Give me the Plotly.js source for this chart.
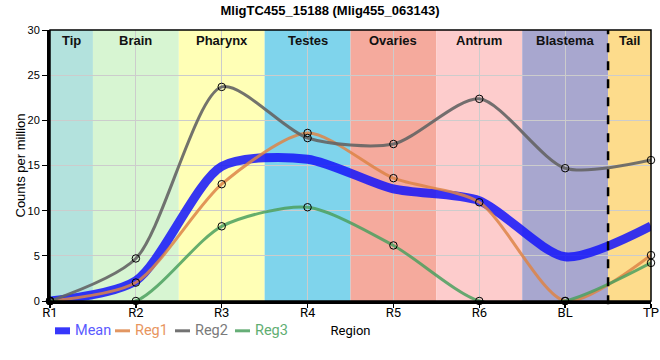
<!DOCTYPE html>
<html><head><meta charset="utf-8">
<script src="https://cdn.plot.ly/plotly-3.0.1.min.js"></script>
<style>html,body{margin:0;padding:0;background:#fff}#chart{width:660px;height:360px}</style>
</head><body><div id="chart"></div>
<script>
const categories = ['R1','R2','R3','R4','R5','R6','BL','TP'];
const regionNames = ['Tip','Brain','Pharynx','Testes','Ovaries','Antrum','Blastema','Tail'];
const regionColors = ['#b3e2dd','#d7f5d2','#ffffb6','#7fd4ec','#f5aa9d','#fdcccc','#a8a7cf','#fddc8c'];
const meanVals = [0, 2.25, 14.9, 15.7, 12.4, 11.1, 4.9, 8.3];
const reg1Vals = [0, 2.04, 12.93, 18.6, 13.6, 10.93, 0, 5.08];
const reg2Vals = [0, 4.71, 23.7, 18.04, 17.38, 22.38, 14.7, 15.6];
const reg3Vals = [0, 0, 8.27, 10.38, 6.15, 0, 0, 4.22];
const seriesNames = ['Mean','Reg1','Reg2','Reg3'];
const seriesColors = ['rgba(20,20,250,0.85)','rgba(221,132,70,0.85)','rgba(100,100,100,0.9)','rgba(75,160,95,0.85)'];
const legendTextColors = ['#5a5aff','#e8955e','#7a7a7a','#5fae72'];
const seriesWidths = [9, 3, 3, 3];
const tailBoundary = 6.5;

const allVals = [meanVals, reg1Vals, reg2Vals, reg3Vals];
const xIdx = categories.map((c,i)=>i);
const traces = [];
allVals.forEach((v,k)=>{
  traces.push({x: xIdx, y: v, type:'scatter', mode:'lines', name:seriesNames[k], showlegend:false,
    line:{shape:'spline', smoothing:0.75, color:seriesColors[k], width:seriesWidths[k]},
    hoverinfo:'skip'});
});
[reg1Vals, reg2Vals, reg3Vals].forEach(v=>{
  traces.push({x: xIdx, y: v, type:'scatter', mode:'markers', showlegend:false,
    cliponaxis:false,
    marker:{symbol:'circle-open', size:7.5, color:'#000', line:{width:1, color:'#000'}},
    hoverinfo:'skip'});
});

const shapes = [];
const annotations = [];
regionNames.forEach((n,i)=>{
  const x0 = Math.max(0, i-0.5), x1 = Math.min(categories.length-1, i+0.5);
  shapes.push({type:'rect', xref:'x', yref:'paper', x0:x0, x1:x1, y0:0, y1:1,
    fillcolor: regionColors[i], line:{width:0}, layer:'between'});
  annotations.push({xref:'x', yref:'paper', x:(x0+x1)/2, y:1, yanchor:'top', yshift:-1,
    text:'<b>'+n+'</b>', showarrow:false, font:{family:'Liberation Sans, Arial', size:13, color:'#111'}});
});
shapes.push({type:'line', xref:'x', yref:'paper', x0:tailBoundary, x1:tailBoundary, y0:-0.012, y1:1,
  line:{color:'#000', width:2.5, dash:'dash'}, layer:'above'});
shapes.push({type:'rect', xref:'paper', yref:'paper', x0:0, x1:1, y0:0, y1:1,
  line:{color:'#000', width:1.5}, layer:'above'});

// manual legend (below the plot)
const plotW = 601, plotH = 271;
const legendStartPx = 5, legendStepPx = 60, legendSymPx = 15, legendY = -0.11;
seriesNames.forEach((n,k)=>{
  const sx = legendStartPx + k*legendStepPx;
  shapes.push({type:'line', xref:'paper', yref:'paper', x0:sx/plotW, x1:(sx+legendSymPx)/plotW,
    y0:legendY, y1:legendY, line:{color:seriesColors[k], width: k===0 ? 7 : 3}});
  annotations.push({xref:'paper', yref:'paper', x:(sx+legendSymPx+3)/plotW, y:legendY,
    xanchor:'left', yanchor:'middle', showarrow:false, text:n,
    font:{family:'Roboto, Liberation Sans', size:14.5, color:legendTextColors[k]}});
});
annotations.push({xref:'paper', yref:'paper', x:-30/plotW, y:0.5, textangle:-90, showarrow:false,
  xanchor:'center', yanchor:'middle', text:'Counts per million',
  font:{family:'Liberation Sans, Arial', size:13, color:'#000'}});

const layout = {
  width:660, height:360,
  margin:{l:50, r:9, t:30, b:59},
  paper_bgcolor:'#fff', plot_bgcolor:'#fff',
  font:{family:'Liberation Sans, Arial', size:12, color:'#000'},
  title:{text:'<b>MligTC455_15188 (Mlig455_063143)</b>', x:0.5, xanchor:'center', y:0.985, yanchor:'top',
    font:{family:'Liberation Sans, Arial', size:13, color:'#000'}},
  xaxis:{range:[0,7], tickvals:xIdx, ticktext:categories, showgrid:true, gridcolor:'#cccccc', gridwidth:1,
    showline:true, linecolor:'#000', linewidth:3, ticks:'outside', ticklen:4, tickcolor:'#000', tickwidth:1.5,
    ticklabelstandoff:-7,
    zeroline:false, tickfont:{family:'Roboto, Liberation Sans', size:13, color:'#000'},
    title:{text:'Region', font:{family:'Roboto, Liberation Sans', size:13, color:'#000'}, standoff:8}},
  yaxis:{range:[0,30], tickvals:[0,5,10,15,20,25,30], showgrid:true, gridcolor:'#cccccc', gridwidth:1,
    showline:true, linecolor:'#000', linewidth:3, ticks:'outside', ticklen:5, tickcolor:'#000', tickwidth:1,
    zeroline:false, tickfont:{family:'Liberation Sans, Arial', size:11, color:'#000'}},
  shapes:shapes, annotations:annotations, showlegend:false
};
Plotly.newPlot('chart', traces, layout, {displayModeBar:false, staticPlot:true});
</script></body></html>
